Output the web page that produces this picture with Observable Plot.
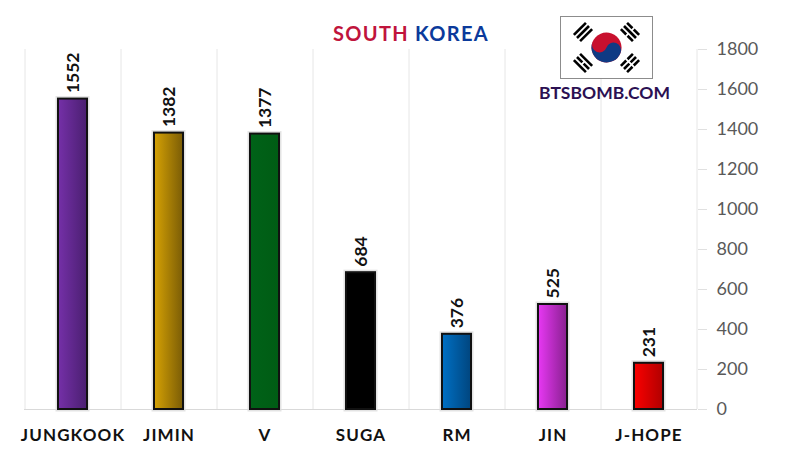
<!DOCTYPE html>
<html>
<head>
<meta charset="utf-8">
<script src="https://cdn.jsdelivr.net/npm/d3@7"></script>
<script src="https://cdn.jsdelivr.net/npm/@observablehq/plot@0.6"></script>
<style>
html,body{margin:0;padding:0;background:#fff;}
#wrap{position:relative;width:800px;height:450px;overflow:hidden;font-family:Lato,sans-serif;}
#title{position:absolute;left:0;top:19px;width:822px;text-align:center;font-weight:700;font-size:20px;letter-spacing:1.3px;line-height:28px;}
#site{position:absolute;left:539px;top:81px;font-weight:700;font-size:17.5px;color:#2b1052;line-height:24px;white-space:nowrap;}
#flag{position:absolute;left:560px;top:16px;}
[aria-label="x-axis tick label"] text{letter-spacing:1.1px;}
</style>
</head>
<body>
<div id="wrap">
<div id="chart"></div>
<div id="title"><span style="color:#c0143c">SOUTH</span> <span style="color:#0b3a9b">KOREA</span></div>
<div id="flag"></div>
<div id="site">BTSBOMB.COM</div>
</div>
<script>
const members = ["JUNGKOOK","JIMIN","V","SUGA","RM","JIN","J-HOPE"];
const votes = [1552,1382,1377,684,376,525,231];
const colorsLeft = ["#7530a8","#d6a204","#006218","#000000","#0070c4","#e838f4","#fb0000"];
const colorsRight = ["#4a1f70","#7a5c06","#005c14","#000000","#00457e","#88208f","#b00000"];
const yTicks = [0,200,400,600,800,1000,1200,1400,1600,1800];
const data = members.map((name,i)=>({name,value:votes[i],fill:`url(#bar${i})`}));

const defs = () => {
  const ns = "http://www.w3.org/2000/svg";
  const d = document.createElementNS(ns,"defs");
  members.forEach((_,i)=>{
    const g = document.createElementNS(ns,"linearGradient");
    g.setAttribute("id",`bar${i}`);
    [[0,colorsLeft[i]],[1,colorsRight[i]]].forEach(([o,c])=>{
      const s = document.createElementNS(ns,"stop");
      s.setAttribute("offset",o); s.setAttribute("stop-color",c);
      g.appendChild(s);
    });
    d.appendChild(g);
  });
  return d;
};

const grid = "#e6e6e6";
const chart = Plot.plot({
  width:800,height:450,
  marginLeft:24,marginRight:103,marginTop:49,marginBottom:41,
  style:{fontFamily:"Lato,sans-serif",background:"#fff"},
  x:{domain:members,paddingInner:0.7,paddingOuter:0.35,align:0.5,label:null},
  y:{domain:[0,1800],label:null},
  color:{type:"identity"},
  marks:[
    defs,
    Plot.ruleX(members,{x:d=>d,y1:0,y2:1800,dx:-48,stroke:grid}),
    Plot.ruleX(["J-HOPE"],{x:d=>d,y1:0,y2:1800,dx:48,stroke:grid}),
    Plot.axisY({anchor:"right",ticks:yTicks,tickFormat:"d",label:null,tickSize:9,tickPadding:10,stroke:"#e0e0e0",fill:"#595959",fontSize:18}),
    Plot.axisX({anchor:"bottom",tickSize:0,tickPadding:19,label:null,fontWeight:700,fontSize:17,fill:"#111"}),
    Plot.ruleY([0],{stroke:"#d9d9d9"}),
    Plot.barY(data,{x:"name",y:"value",fill:"#000",stroke:"#dcdcdc",strokeWidth:5,strokeOpacity:0.8}),
    Plot.barY(data,{x:"name",y:"value",fill:"fill",stroke:"#111",strokeWidth:2}),
    Plot.text(data,{x:"name",y:"value",text:d=>String(d.value),rotate:-90,textAnchor:"start",dy:-6,fontSize:17.5,fontWeight:700,fill:"#111"})
  ]
});
document.getElementById("chart").appendChild(chart);

// flag decoration
const trigram = (cx,cy,rot,breaks) => {
  let s = `<g transform="translate(${cx},${cy}) rotate(${rot})">`;
  [-4.4,0,4.4].forEach((y,i)=>{
    if(breaks[i]) s+=`<rect x="-8.5" y="${y-1.3}" width="7.6" height="2.6"/><rect x="0.9" y="${y-1.3}" width="7.6" height="2.6"/>`;
    else s+=`<rect x="-8.5" y="${y-1.3}" width="17" height="2.6"/>`;
  });
  return s+"</g>";
};
document.getElementById("flag").innerHTML = `<svg width="93" height="63" viewBox="0 0 93 63" style="display:block">
<rect x="0.5" y="0.5" width="92" height="62" fill="#fff" stroke="#8c8c8c"/>
<g transform="translate(46.5,31.5) rotate(20)">
<circle r="15" fill="#c8102e"/>
<path d="M-15,0 A15,15 0 0 0 15,0 A7.5,7.5 0 0 0 0,0 A7.5,7.5 0 0 1 -15,0Z" fill="#0f3a84"/>
</g>
<g fill="#000">
${trigram(23,16,-45,[0,0,0])}
${trigram(70,16,45,[1,0,1])}
${trigram(23,47,45,[0,1,0])}
${trigram(70,47,-45,[1,1,1])}
</g></svg>`;
</script>
</body>
</html>
